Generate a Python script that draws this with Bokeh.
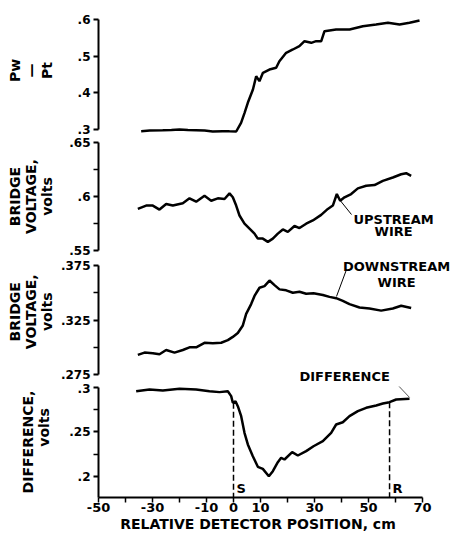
from bokeh.plotting import figure
from bokeh.layouts import column
from bokeh.models import Range1d, FixedTicker, ColumnDataSource
from bokeh.core.properties import value
from bokeh.embed import file_html
from bokeh.resources import INLINE

FONT = "DejaVu Sans"
NB = "\u00a0"

# ---------------- data (relative detector position, cm) ----------------
pw_x = [-34.2, -31.0, -26.2, -23.0, -20.0, -16.9, -13.8, -10.7, -7.7, -4.0, -1.5, 1.0,
        2.8, 4.1, 5.3, 7.2, 8.4, 9.6, 10.9, 13.3, 15.8, 17.0, 19.5, 22.0, 24.4, 26.3,
        28.8, 30.6, 32.5, 33.7, 38.0, 43.0, 47.9, 52.8, 57.2, 61.5, 65.2, 68.9]
pw_y = [0.2954, 0.2970, 0.2981, 0.2990, 0.3000, 0.2985, 0.2981, 0.2970, 0.2946, 0.2955, 0.2950, 0.2946,
        0.3183, 0.3455, 0.3728, 0.4091, 0.4454, 0.4318, 0.4546, 0.4636, 0.4683, 0.4863, 0.5092, 0.5182, 0.5272, 0.5409,
        0.5364, 0.5409, 0.5409, 0.5682, 0.5727, 0.5727, 0.5818, 0.5864, 0.5909, 0.5864, 0.5909, 0.5973]

up_x = [-35.43, -32.35, -29.88, -27.41, -24.94, -22.47, -18.77, -16.30, -13.83, -10.74, -8.27, -5.80,
        -3.33, -1.48, -0.25, 0.99, 2.22, 4.07, 5.93, 7.78, 9.01, 10.86, 12.72, 14.57, 16.42, 18.27,
        20.12, 22.59, 24.44, 26.91, 29.38, 32.47, 34.94, 36.79, 38.27, 39.51, 41.11, 43.58, 46.05,
        49.14, 52.22, 55.31, 59.01, 62.10, 63.95, 65.80]
up_y = [0.5885, 0.5916, 0.5916, 0.5879, 0.5931, 0.5916, 0.5938, 0.5983, 0.5952, 0.6007, 0.5961, 0.5983,
        0.5977, 0.6029, 0.5993, 0.5916, 0.5824, 0.5748, 0.5702, 0.5656, 0.5610, 0.5610, 0.5580, 0.5610, 0.5656, 0.5695,
        0.5672, 0.5727, 0.5708, 0.5748, 0.5778, 0.5830, 0.5885, 0.5916, 0.6023, 0.5961, 0.5993, 0.6023, 0.6075,
        0.6099, 0.6106, 0.6145, 0.6176, 0.6206, 0.6216, 0.6191]

down_x = [-35.43, -32.96, -29.88, -27.41, -24.94, -21.85, -18.77, -16.30, -13.83, -10.74, -7.65, -4.57,
          -2.10, -0.25, 1.60, 3.46, 4.69, 6.54, 7.78, 9.63, 11.48, 13.33, 15.19, 17.04, 19.51, 21.98,
          24.44, 26.91, 29.63, 33.09, 35.56, 38.02, 40.49, 42.96, 46.67, 50.37, 54.69, 59.01, 62.10, 65.80]
down_y = [0.2930, 0.2951, 0.2945, 0.2936, 0.2975, 0.2951, 0.2975, 0.2999, 0.2999, 0.3041, 0.3036, 0.3041,
          0.3065, 0.3095, 0.3131, 0.3200, 0.3306, 0.3396, 0.3471, 0.3546, 0.3561, 0.3612, 0.3570, 0.3531, 0.3522, 0.3500,
          0.3509, 0.3491, 0.3495, 0.3480, 0.3462, 0.3450, 0.3426, 0.3396, 0.3365, 0.3356, 0.3336, 0.3356, 0.3381, 0.3360]

diff_x = [-36.05, -31.11, -26.17, -20.0, -13.83, -8.89, -5.19, -2.10, -0.86, -0.25, 0.74, 1.60,
          2.84, 4.07, 5.31, 7.16, 9.01, 10.86, 13.09, 14.57, 16.42, 17.65, 18.89, 21.73, 23.83,
          26.91, 29.63, 33.09, 36.17, 38.02, 40.49, 42.96, 46.05, 49.14, 52.84, 55.31, 57.78, 60.25, 65.19]
diff_y = [0.2958, 0.2978, 0.2966, 0.2985, 0.2978, 0.2958, 0.2948, 0.2958, 0.2903, 0.2828, 0.2846, 0.2790,
          0.2678, 0.2491, 0.2360, 0.2228, 0.2109, 0.2086, 0.2003, 0.2060, 0.2161, 0.2210, 0.2191, 0.2273, 0.2236,
          0.2285, 0.2340, 0.2397, 0.2491, 0.2584, 0.2610, 0.2678, 0.2734, 0.2772, 0.2798, 0.2820, 0.2835, 0.2865, 0.2873]

# reference positions S and R
marker_x = [0.0, 57.8]
marker_top = [0.2828, 0.2835]
marker_names = ["S", "R"]

# annotation texts (position in each panel's own units)
up_text = ["UPSTREAM", "WIRE"]
up_text_x = [59.3, 59.3]
up_text_y = [0.5787, 0.5676]
down_text = ["DOWNSTREAM", "WIRE"]
down_text_x = [60.4, 60.4]
down_text_y = [0.3741, 0.3594]
diff_text_x = [24.4]
diff_text_y = [0.2732]

# leader lines
up_leader_x = [38.5, 43.7]
up_leader_y = [0.5995, 0.5833]
down_leader_x = [38.15, 41.85]
down_leader_y = [0.3466, 0.3713]
diff_leader_x = [58.9, 65.2]
diff_leader_y = [0.309, 0.2888]

# ticks
x_ticks = [-50.0, -30.0, -10.0, 0.0, 10.0, 30.0, 50.0, 70.0]
x_minor = [-40.0, -20.0, 20.0, 40.0, 60.0]
x_tick_text = ["-50", "-30", "-10", "0", "10", "30", "50", "70"]

p1_ticks = [0.3, 0.4, 0.5, 0.6]
p1_text = [".3", ".4", ".5", ".6"]
p2_ticks = [0.55, 0.6, 0.65]
p2_minor = [0.575, 0.625]
p2_text = [".55", ".6", ".65"]
p3_ticks = [0.275, 0.325, 0.375]
p3_minor = [0.3, 0.35]
p3_text = [".275", ".325", ".375"]
p4_ticks = [0.2, 0.25, 0.3]
p4_minor = [0.225, 0.275]
p4_text = [".2", ".25", ".3"]

xr = Range1d(-50, 80.74)


def panel(y_lo, y_hi, fh, bounds, ticks, minor, text, label, standoff, top, bottom, xaxis=False):
    p = figure(frame_width=353, frame_height=fh, x_range=xr, y_range=Range1d(y_lo, y_hi),
               output_backend="svg", toolbar_location=None,
               x_axis_location="below" if xaxis else None,
               min_border_left=98, min_border_right=4, min_border_top=top,
               min_border_bottom=bottom)
    p.outline_line_color = None
    p.grid.visible = False
    ya = p.yaxis[0]
    ya.bounds = bounds
    ya.ticker = FixedTicker(ticks=ticks, minor_ticks=minor)
    ya.major_label_overrides = dict(zip(ticks, text))
    ya.axis_line_width = 2
    ya.axis_line_color = "black"
    ya.major_tick_line_width = 2
    ya.minor_tick_line_width = 1.5
    ya.major_tick_in = 0
    ya.major_tick_out = 5
    ya.minor_tick_in = 0
    ya.minor_tick_out = 5
    ya.major_label_standoff = 3
    ya.major_label_text_font = FONT
    ya.major_label_text_font_style = "bold"
    ya.major_label_text_font_size = "12px"
    ya.major_label_text_color = "black"
    ya.axis_label = label
    ya.axis_label_standoff = standoff
    ya.axis_label_text_font = FONT
    ya.axis_label_text_font_style = "bold"
    ya.axis_label_text_font_size = "14px"
    ya.axis_label_text_color = "black"
    ya.axis_label_text_line_height = 1.0
    return p


def add_text(p, xs, ys, texts, align="center", baseline="middle"):
    src = ColumnDataSource(dict(x=xs, y=ys, t=texts))
    p.text(x="x", y="y", text="t", source=src, text_align=align, text_baseline=baseline,
           text_font=value(FONT), text_font_style="bold", text_font_size=value("13px"), text_color="black")


# ---- panel 1 : Pw/Pt ----
p1 = panel(0.28912, 0.6327, 126, (0.3, 0.6), p1_ticks, [], p1_text,
           "Pw\n\u2014\nPt", 20, top=7, bottom=4)
p1.line(pw_x, pw_y, line_color="black", line_width=2.5)

# ---- panel 2 : upstream wire ----
p2 = panel(0.54815, 0.65185, 112, (0.55, 0.65), p2_ticks, p2_minor, p2_text,
           "BRIDGE\nVOLTAGE,\nvolts", 11, top=3, bottom=5)
p2.line(up_x, up_y, line_color="black", line_width=2.5)
p2.line(up_leader_x, up_leader_y, line_color="black", line_width=1)
add_text(p2, up_text_x, up_text_y, up_text)

# ---- panel 3 : downstream wire ----
p3_label = "\n".join(NB * 4 + s for s in ["BRIDGE", "VOLTAGE,", "volts"])
p3 = panel(0.26766, 0.37959, 122, (0.275, 0.375), p3_ticks, p3_minor, p3_text, p3_label, 3,
           top=3, bottom=1)
p3.line(down_x, down_y, line_color="black", line_width=2.5)
p3.line(down_leader_x, down_leader_y, line_color="black", line_width=1)
add_text(p3, down_text_x, down_text_y, down_text)
add_text(p3, diff_text_x, diff_text_y, ["DIFFERENCE"], align="left")

# ---- panel 4 : difference ----
y4_lo = 0.1764
p4 = panel(y4_lo, 0.30112, 111, (y4_lo, 0.3), p4_ticks, p4_minor, p4_text,
           "DIFFERENCE,\n" + NB * 6 + "volts", 14, top=3, bottom=37, xaxis=True)
p4.line(diff_x, diff_y, line_color="black", line_width=2.5)
p4.multi_line(xs=[[mx, mx] for mx in marker_x], ys=[[mt, y4_lo] for mt in marker_top],
              line_color="black", line_width=1.5, line_dash="6 3")
p4.line(diff_leader_x, diff_leader_y, line_color="#555555", line_width=1)
add_text(p4, [mx + 1.1 for mx in marker_x], [0.1865] * len(marker_x), marker_names,
         align="left", baseline="alphabetic")

xa = p4.xaxis[0]
xa.bounds = (-50, 70)
xa.ticker = FixedTicker(ticks=x_ticks, minor_ticks=x_minor)
xa.major_label_overrides = dict(zip(x_ticks, x_tick_text))
xa.axis_line_width = 2
xa.axis_line_color = "black"
xa.major_tick_line_width = 1.5
xa.minor_tick_line_width = 1.5
xa.major_tick_in = 0
xa.major_tick_out = 5
xa.minor_tick_in = 0
xa.minor_tick_out = 5
xa.major_label_standoff = 0
xa.major_label_text_font = FONT
xa.major_label_text_font_style = "bold"
xa.major_label_text_font_size = "13px"
xa.major_label_text_color = "black"
xa.axis_label = "RELATIVE DETECTOR POSITION, cm" + NB * 7
xa.axis_label_standoff = 1
xa.axis_label_text_font = FONT
xa.axis_label_text_font_style = "bold"
xa.axis_label_text_font_size = "14px"
xa.axis_label_text_color = "black"

layout = column(p1, p2, p3, p4, spacing=0)
open("out.html", "w").write(file_html(layout, INLINE))
